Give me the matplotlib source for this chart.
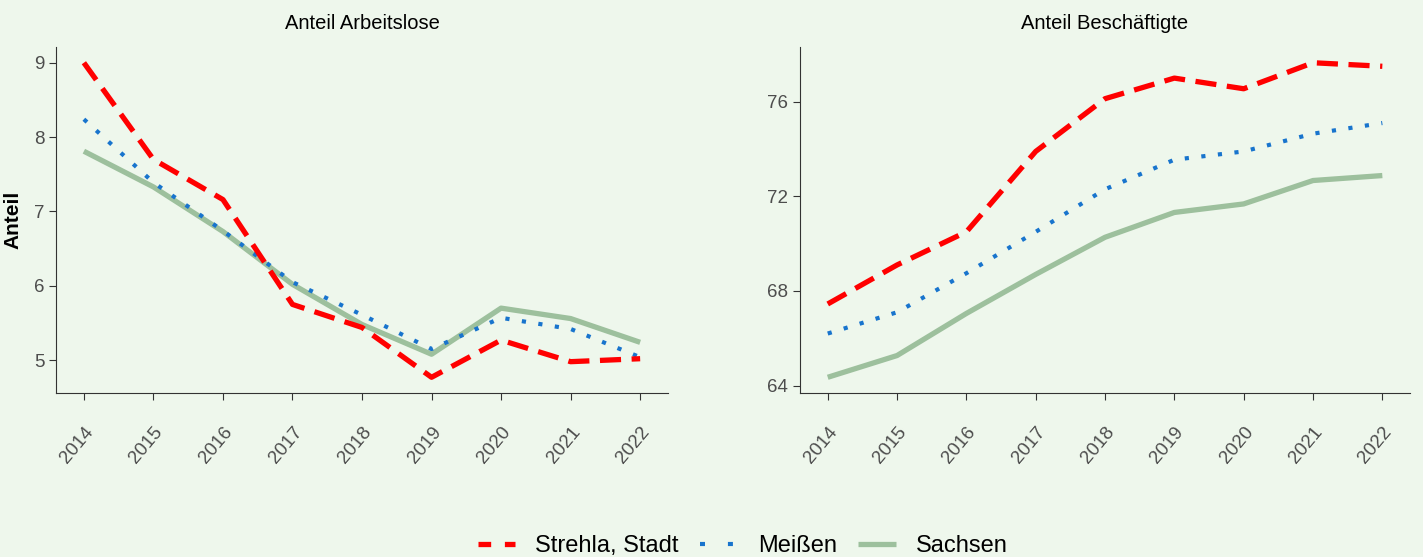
import matplotlib
matplotlib.use("Agg")
import matplotlib.pyplot as plt
from matplotlib.lines import Line2D

plt.rcParams['font.family'] = ['Liberation Sans', 'DejaVu Sans']

years = [2014, 2015, 2016, 2017, 2018, 2019, 2020, 2021, 2022]

# Anteil Arbeitslose
alo_strehla = [9.00, 7.70, 7.16, 5.75, 5.44, 4.77, 5.27, 4.98, 5.02]
alo_meissen = [8.24, 7.39, 6.74, 6.05, 5.61, 5.15, 5.57, 5.42, 5.04]
alo_sachsen = [7.81, 7.33, 6.73, 6.02, 5.48, 5.08, 5.70, 5.56, 5.24]

# Anteil Beschaeftigte
bes_strehla = [67.45, 69.10, 70.50, 73.90, 76.13, 77.00, 76.55, 77.65, 77.50]
bes_meissen = [66.20, 67.10, 68.75, 70.50, 72.30, 73.55, 73.90, 74.65, 75.10]
bes_sachsen = [64.35, 65.27, 67.05, 68.70, 70.27, 71.32, 71.68, 72.67, 72.88]

series_names = ["Strehla, Stadt", "Meißen", "Sachsen"]

bg = "#eef7ec"
red, blue, green = "#ff0000", "#1874cd", "#9dc09d"

fig = plt.figure(figsize=(14.23, 5.57), dpi=100, facecolor=bg)

ax1 = fig.add_axes([0.0394, 0.2944, 0.43, 0.6212])
ax2 = fig.add_axes([0.5622, 0.2944, 0.4287, 0.6212])


def draw(ax, s, m, sa, title, yticks):
    ax.set_facecolor(bg)
    ax.plot(years, sa, color=green, lw=3.8, solid_capstyle="butt", zorder=2)
    ax.plot(years, m, color=blue, lw=3.0, dashes=(1, 3), zorder=3)
    ax.plot(years, s, color=red, lw=3.8, dashes=(4, 2), zorder=4)
    lo, hi = min(s + m + sa), max(s + m + sa)
    pad = (hi - lo) * 0.05
    ax.set_ylim(lo - pad, hi + pad)
    ax.set_xlim(years[0] - 0.4, years[-1] + 0.4)
    ax.set_xticks(years)
    ax.set_xticklabels([str(y) for y in years], rotation=50, ha="right", rotation_mode="anchor")
    ax.set_yticks(yticks)
    ax.set_title(title, fontsize=14.5, pad=13)
    for side in ["top", "right"]:
        ax.spines[side].set_visible(False)
    for side in ["left", "bottom"]:
        ax.spines[side].set_color("#333333")
    ax.tick_params(axis="both", length=5, color="#333333", labelcolor="#4d4d4d", labelsize=13.5)
    ax.tick_params(axis="x", pad=17)


draw(ax1, alo_strehla, alo_meissen, alo_sachsen, "Anteil Arbeitslose", [5, 6, 7, 8, 9])
draw(ax2, bes_strehla, bes_meissen, bes_sachsen, "Anteil Beschäftigte", [64, 68, 72, 76])
ax1.set_ylabel("Anteil", fontsize=15, fontweight="bold", labelpad=8)

handles = [
    Line2D([], [], color=red, lw=3.8, dashes=(2.4, 2.6)),
    Line2D([], [], color=blue, lw=3.0, dashes=(1.2, 5.5)),
    Line2D([], [], color=green, lw=3.8, solid_capstyle="butt"),
]
fig.legend(handles, series_names, loc="center", bbox_to_anchor=(0.522, 0.02), ncol=3,
           frameon=False, fontsize=17, handlelength=1.6, columnspacing=0.9, handletextpad=0.85)

fig.savefig("out.png", dpi=100, facecolor=bg)
